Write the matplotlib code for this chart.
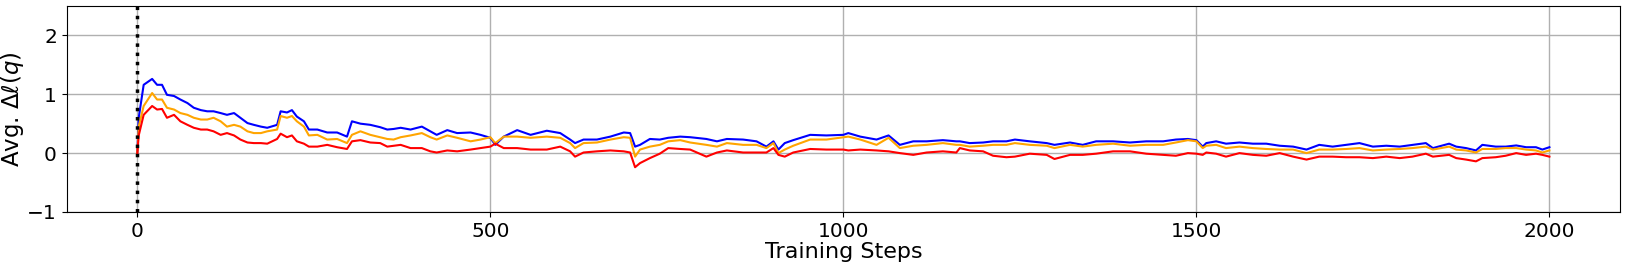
import numpy as np
import matplotlib
matplotlib.use('Agg')
import matplotlib.pyplot as plt

# values
steps = [0, 2, 9, 21, 28, 35, 42, 52, 61, 71, 80, 90, 99, 108, 118, 127, 137, 146, 156, 165,
         175, 184, 198, 203, 212, 219, 226, 236, 243, 255, 269, 283, 297, 304, 316, 330, 344,
         354, 363, 373, 387, 403, 415, 424, 439, 453, 472, 486, 500, 507, 519, 538, 557, 580,
         599, 613, 620, 632, 651, 670, 689, 698, 705, 712, 726, 740, 752, 769, 783, 806, 821,
         835, 858, 877, 891, 901, 908, 917, 929, 953, 976, 1000, 1007, 1024, 1047, 1064, 1080,
         1099, 1118, 1141, 1160, 1165, 1179, 1198, 1212, 1231, 1243, 1264, 1288, 1299, 1321,
         1339, 1358, 1382, 1406, 1429, 1453, 1471, 1488, 1500, 1509, 1514, 1528, 1542, 1561,
         1580, 1599, 1618, 1637, 1656, 1674, 1693, 1712, 1731, 1750, 1769, 1788, 1806, 1825,
         1835, 1858, 1868, 1882, 1896, 1905, 1924, 1938, 1953, 1967, 1981, 1990, 2000]

blue = [0.0, 0.6, 1.16, 1.26, 1.16, 1.16, 0.99, 0.97, 0.91, 0.85, 0.77, 0.73, 0.71, 0.71, 0.68,
        0.65, 0.68, 0.60, 0.51, 0.48, 0.45, 0.43, 0.48, 0.71, 0.69, 0.73, 0.62, 0.54, 0.40, 0.40,
        0.35, 0.35, 0.28, 0.54, 0.50, 0.48, 0.44, 0.40, 0.41, 0.43, 0.40, 0.45, 0.37, 0.31, 0.39,
        0.34, 0.35, 0.31, 0.26, 0.14, 0.28, 0.39, 0.31, 0.38, 0.34, 0.23, 0.17, 0.23, 0.23, 0.28,
        0.35, 0.34, 0.11, 0.14, 0.24, 0.23, 0.26, 0.28, 0.27, 0.24, 0.20, 0.24, 0.23, 0.20, 0.11,
        0.20, 0.06, 0.17, 0.22, 0.31, 0.30, 0.31, 0.34, 0.28, 0.23, 0.30, 0.14, 0.20, 0.20, 0.22,
        0.20, 0.20, 0.17, 0.18, 0.20, 0.20, 0.23, 0.20, 0.17, 0.14, 0.18, 0.14, 0.20, 0.20, 0.18,
        0.20, 0.20, 0.23, 0.24, 0.22, 0.11, 0.17, 0.20, 0.16, 0.18, 0.16, 0.16, 0.125, 0.11, 0.06,
        0.14, 0.11, 0.14, 0.17, 0.11, 0.125, 0.11, 0.14, 0.17, 0.085, 0.16, 0.11, 0.085, 0.045,
        0.14, 0.11, 0.11, 0.13, 0.10, 0.10, 0.06, 0.10]

orange = [0.0, 0.45, 0.80, 1.02, 0.91, 0.91, 0.77, 0.74, 0.68, 0.65, 0.60, 0.57, 0.57, 0.60, 0.54,
          0.45, 0.48, 0.45, 0.37, 0.34, 0.34, 0.37, 0.40, 0.63, 0.60, 0.63, 0.54, 0.45, 0.30, 0.31,
          0.23, 0.24, 0.17, 0.31, 0.37, 0.31, 0.27, 0.24, 0.23, 0.27, 0.30, 0.34, 0.27, 0.23, 0.30,
          0.26, 0.20, 0.23, 0.27, 0.17, 0.28, 0.28, 0.26, 0.28, 0.26, 0.17, 0.085, 0.17, 0.18, 0.23,
          0.27, 0.26, -0.06, 0.06, 0.11, 0.14, 0.20, 0.22, 0.18, 0.14, 0.11, 0.17, 0.14, 0.14, 0.085,
          0.17, 0.0, 0.06, 0.125, 0.23, 0.23, 0.27, 0.28, 0.23, 0.14, 0.26, 0.085, 0.125, 0.14, 0.17,
          0.14, 0.14, 0.11, 0.125, 0.14, 0.14, 0.17, 0.14, 0.125, 0.085, 0.14, 0.11, 0.14, 0.16,
          0.125, 0.14, 0.14, 0.18, 0.22, 0.20, 0.085, 0.125, 0.14, 0.085, 0.11, 0.085, 0.07, 0.06,
          0.06, 0.0, 0.06, 0.06, 0.07, 0.085, 0.045, 0.06, 0.07, 0.085, 0.11, 0.06, 0.11, 0.06,
          0.045, 0.01, 0.07, 0.07, 0.085, 0.085, 0.06, 0.045, 0.01, 0.045]

red = [0.0, 0.3, 0.65, 0.80, 0.74, 0.75, 0.60, 0.65, 0.54, 0.48, 0.43, 0.40, 0.40, 0.37, 0.31,
       0.34, 0.30, 0.23, 0.18, 0.17, 0.17, 0.16, 0.24, 0.33, 0.27, 0.30, 0.20, 0.16, 0.11, 0.11,
       0.14, 0.10, 0.07, 0.20, 0.22, 0.18, 0.17, 0.11, 0.125, 0.14, 0.085, 0.085, 0.03, 0.01,
       0.045, 0.03, 0.06, 0.085, 0.11, 0.16, 0.085, 0.085, 0.06, 0.06, 0.11, 0.03, -0.06, 0.01,
       0.03, 0.045, 0.03, 0.01, -0.24, -0.17, -0.085, -0.01, 0.085, 0.07, 0.06, -0.06, 0.01,
       0.045, 0.01, 0.01, 0.01, 0.085, -0.03, -0.06, 0.01, 0.07, 0.06, 0.06, 0.045, 0.06, 0.045,
       0.03, 0.0, -0.03, 0.01, 0.03, 0.01, 0.085, 0.045, 0.03, -0.045, -0.07, -0.06, -0.01,
       -0.03, -0.10, -0.03, -0.03, -0.01, 0.03, 0.03, -0.01, -0.03, -0.045, 0.0, -0.01, -0.03,
       0.01, -0.01, -0.06, 0.0, -0.03, -0.045, 0.0, -0.06, -0.11, -0.06, -0.06, -0.07, -0.07,
       -0.085, -0.06, -0.085, -0.06, -0.01, -0.06, -0.03, -0.085, -0.11, -0.14, -0.085, -0.07,
       -0.045, 0.0, -0.03, -0.01, -0.03, -0.06]

fig = plt.figure(figsize=(16.27, 2.69), dpi=100)
ax = fig.add_axes([0.041, 0.212, 0.9547, 0.766])

ax.plot(steps, blue, c='blue', lw=1.5)
ax.plot(steps, orange, c='orange', lw=1.5)
ax.plot(steps, red, c='red', lw=1.5)
ax.axvline(0, color='black', linestyle=':', lw=2.5)

ax.set_xlim(-100, 2100)
ax.set_ylim(-1, 2.5)
ax.set_xticks([0, 500, 1000, 1500, 2000])
ax.set_yticks([-1, 0, 1, 2])
ax.grid(True, color='#b0b0b0', lw=1)
ax.set_axisbelow(True)
ax.tick_params(labelsize=14.5)
ax.set_xlabel('Training Steps', fontsize=16, labelpad=1)
ax.set_ylabel(r'Avg. $\Delta\ell(q)$', fontsize=16.5, labelpad=1)

plt.savefig('out.png', dpi=100)
